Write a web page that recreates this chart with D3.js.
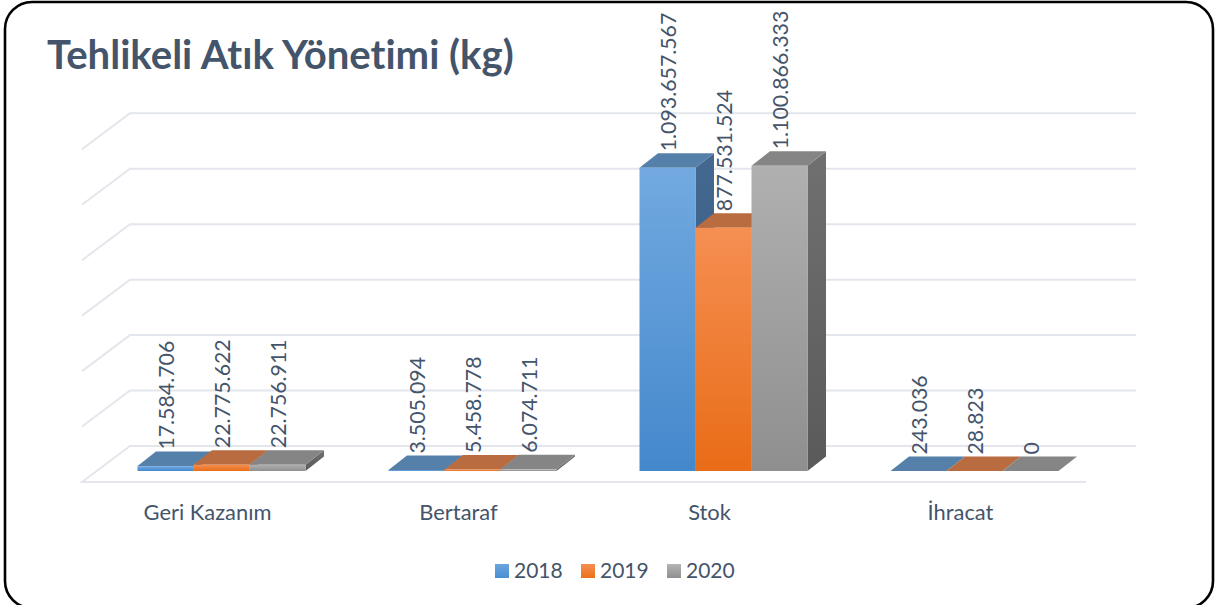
<!DOCTYPE html>
<html><head><meta charset="utf-8">
<script src="https://cdn.jsdelivr.net/npm/d3@7"></script>
<style>html,body{margin:0;padding:0;background:#fff;overflow:hidden}svg{display:block}text{font-family:Lato,"Open Sans",sans-serif;fill:#44546a;font-variant-ligatures:none}</style>
</head><body><svg id="c" width="1216" height="605"></svg>
<script>
const titleText = "Tehlikeli Atık Yönetimi (kg)";
const categories = ["Geri Kazanım", "Bertaraf", "Stok", "İhracat"];
const seriesNames = ["2018", "2019", "2020"];
const values2018 = [17584706, 3505094, 1093657567, 243036];
const values2019 = [22775622, 5458778, 877531524, 28823];
const values2020 = [22756911, 6074711, 1100866333, 0];
const gridTicks = [0, 200e6, 400e6, 600e6, 800e6, 1000e6, 1200e6];

const seriesValues = [values2018, values2019, values2020];
const palette = [
  {front:["#72a9e0","#4488cc"], side:["#44688f","#34597e"], top:"#5580aa", sw:["#6aa5de","#4a8ed2"]},
  {front:["#f58f52","#e96c17"], side:["#a85e30","#a85e30"], top:"#b86c40", sw:["#f58f52","#ec7019"]},
  {front:["#b0b0b0","#8f8f8f"], side:["#707070","#5a5a5a"], top:"#858585", sw:["#b4b4b4","#8f8f8f"]}
];
const depth = {x: 48, y: -36};     // full floor depth
const barFront = {x: 14, y: -11};  // front of bars inside floor
const barDepth = {x: 18.5, y: -14.5};
const floorY = 482;

const svg = d3.select("#c");
const defs = svg.append("defs");
palette.forEach((p,i)=>{
  [["front",p.front],["side",p.side],["sw",p.sw]].forEach(([k,c])=>{
    const g = defs.append("linearGradient").attr("id",`${k}${i}`).attr("x1",0).attr("y1",0).attr("x2",0).attr("y2",1);
    g.append("stop").attr("offset",0).attr("stop-color",c[0]);
    g.append("stop").attr("offset",1).attr("stop-color",c[1]);
  });
});

svg.append("rect").attr("x",5).attr("y",2).attr("width",1208).attr("height",606).attr("rx",27).attr("ry",27)
  .attr("fill","#fff").attr("stroke","#000").attr("stroke-width",2.6);

const x = d3.scaleBand().domain(categories).range([82,1086]).paddingInner(83/251).paddingOuter(83/502);
const xs = d3.scaleBand().domain(seriesNames).range([0,x.bandwidth()]);
const y = d3.scaleLinear().domain([0,1200e6]).range([0,332.7]);

// walls and floor grid
const grid = svg.append("g").attr("fill","none").attr("stroke","#e3e6ec").attr("stroke-width",2);
grid.selectAll("path").data(gridTicks).join("path")
  .attr("d",t=>{
    const yf = floorY - y(t), xl = x.range()[0], xr = x.range()[1];
    const back = `L${xl+depth.x},${yf+depth.y}L${xr+depth.x+2},${yf+depth.y}`;
    return t===0 ? `M${xr},${yf}L${xl},${yf}${back}` : `M${xl},${yf}${back}`;
  });

// bars
const baseY = floorY + barFront.y;
const labels = [];
seriesValues.forEach((vals,si)=>{
  const g = svg.append("g");
  categories.forEach((c,ci)=>{
    const v = vals[ci];
    const x0 = x(c)+xs(seriesNames[si])+barFront.x, x1 = x0+xs.bandwidth();
    const yt = baseY - y(v);
    const dx = barDepth.x, dy = barDepth.y;
    if (yt < baseY) {
      g.append("path").attr("d",`M${x1},${yt}L${x1+dx},${yt+dy}L${x1+dx},${baseY+dy}L${x1},${baseY}Z`).attr("fill",`url(#side${si})`);
    }
    g.append("path").attr("d",`M${x0},${yt}L${x0+dx},${yt+dy}L${x1+dx},${yt+dy}L${x1},${yt}Z`).attr("fill",palette[si].top);
    if (baseY-yt >= 0.5) {
      g.append("rect").attr("x",x0).attr("y",yt).attr("width",x1-x0).attr("height",baseY-yt).attr("fill",`url(#front${si})`);
    }
    labels.push({x:(x0+x1)/2+1, y:yt+dy-2, t:d3.format(",")(v).replace(/,/g,".")});
  });
});

// data labels
svg.append("g").selectAll("text").data(labels).join("text")
  .attr("transform",d=>`translate(${d.x},${d.y}) rotate(-90)`)
  .attr("dy","0.35em").attr("font-size",21.3).text(d=>d.t);

// category axis
const axis = d3.axisBottom(x).tickSize(0).tickPadding(0);
const ax = svg.append("g").attr("transform",`translate(0,${floorY+22})`).call(axis);
ax.select(".domain").remove();
ax.selectAll("text").attr("font-size",21.9).attr("dy","0.71em").style("font-family","Lato").style("fill","#44546a");

// title
svg.append("text").attr("x",47).attr("y",69).attr("font-size",40.1).attr("font-weight",700).text(titleText);

// legend
const lx = d3.scalePoint().domain(seriesNames).range([495,667]);
const lg = svg.append("g").selectAll("g").data(seriesNames).join("g").attr("transform",d=>`translate(${lx(d)},564)`);
lg.append("rect").attr("width",14).attr("height",14).attr("fill",(d,i)=>`url(#sw${i})`);
lg.append("text").attr("x",19).attr("y",14).attr("font-size",21).text(d=>d);
</script></body></html>
